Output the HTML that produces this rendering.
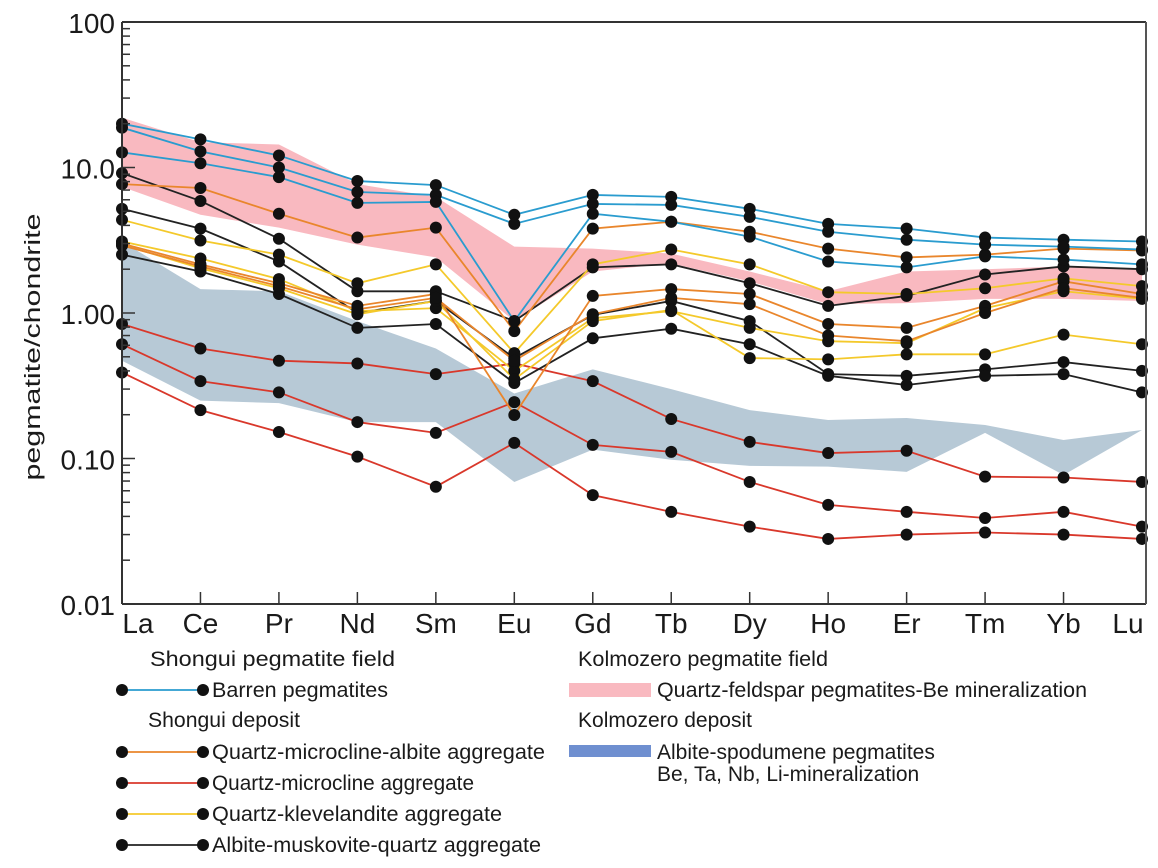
<!DOCTYPE html>
<html><head><meta charset="utf-8"><style>
body{margin:0;background:#fff;}
svg{display:block;font-family:"Liberation Sans",Arial,sans-serif;}
</style></head><body>
<svg id="chart" width="1158" height="868" viewBox="0 0 1158 868">
<g id="bands"></g><g id="series"></g><g id="axes"></g>
<g id="legend" font-size="21" fill="#1a1a1a">
<text x="150" y="666" textLength="245" lengthAdjust="spacingAndGlyphs">Shongui pegmatite field</text>
<text x="148" y="727" textLength="152" lengthAdjust="spacingAndGlyphs">Shongui deposit</text>
<text x="578" y="666" textLength="250" lengthAdjust="spacingAndGlyphs">Kolmozero pegmatite field</text>
<text x="578" y="727" textLength="174" lengthAdjust="spacingAndGlyphs">Kolmozero deposit</text>
<rect x="569" y="683" width="82" height="14" fill="#f9b9c0"/>
<text x="657" y="697" textLength="430" lengthAdjust="spacingAndGlyphs">Quartz-feldspar pegmatites-Be mineralization</text>
<rect x="569" y="745" width="82" height="12" fill="#6f8fd0"/>
<text x="657" y="759">Albite-spodumene pegmatites</text>
<text x="657" y="781">Be, Ta, Nb, Li-mineralization</text>
</g>
</svg>
<script>
const elements=["La","Ce","Pr","Nd","Sm","Eu","Gd","Tb","Dy","Ho","Er","Tm","Yb","Lu"];
const yTicks=[100,10,1,0.1,0.01];
const yTickLabels=["100","10.0","1.00","0.10","0.01"];
const barren1=[20.0,15.6,12.1,8.07,7.57,4.73,6.48,6.28,5.20,4.10,3.80,3.30,3.19,3.10];
const barren2=[18.8,12.9,10.0,6.79,6.48,4.10,5.62,5.53,4.58,3.62,3.19,2.95,2.86,2.73];
const barren3=[12.7,10.7,8.59,5.71,5.80,0.88,4.81,4.24,3.35,2.26,2.06,2.45,2.33,2.16];
const qma1=[7.69,7.23,4.81,3.30,3.86,0.75,3.80,4.24,3.62,2.77,2.41,2.52,2.77,2.69];
const qma2=[3.00,2.16,1.60,1.12,1.35,0.199,1.31,1.46,1.35,0.84,0.79,1.12,1.65,1.35];
const qma3=[2.91,2.09,1.53,1.06,1.27,0.47,0.98,1.27,1.15,0.70,0.64,1.0,1.48,1.27];
const qm1=[0.84,0.57,0.47,0.45,0.38,0.45,0.34,0.187,0.130,0.109,0.113,0.075,0.074,0.069];
const qm2=[0.61,0.34,0.285,0.178,0.150,0.244,0.124,0.111,0.069,0.048,0.043,0.039,0.043,0.034];
const qm3=[0.39,0.215,0.152,0.103,0.064,0.128,0.056,0.043,0.034,0.028,0.030,0.031,0.030,0.028];
const qk1=[4.37,3.15,2.52,1.60,2.16,0.53,2.16,2.73,2.16,1.39,1.35,1.48,1.73,1.53];
const qk2=[3.10,2.37,1.71,1.03,1.08,0.40,0.92,1.03,0.79,0.64,0.62,1.08,1.41,1.25];
const qk3=[2.95,2.03,1.48,0.98,1.21,0.35,0.88,1.05,0.49,0.48,0.52,0.52,0.71,0.61];
const amq1=[9.14,5.89,3.24,1.41,1.41,0.88,2.06,2.16,1.60,1.12,1.31,1.84,2.09,2.0];
const amq2=[5.20,3.80,2.26,1.0,1.21,0.49,0.97,1.21,0.88,0.38,0.37,0.41,0.46,0.40];
const amq3=[2.52,1.93,1.35,0.79,0.84,0.33,0.67,0.78,0.61,0.37,0.32,0.37,0.38,0.285];
const pinkUpper=[22,14.9,14.4,7.69,6.28,2.86,2.77,2.56,1.93,1.41,1.93,2.0,2.09,2.0];
const pinkLower=[7.36,4.73,3.86,2.95,2.41,0.88,1.93,2.19,1.65,1.15,1.17,1.25,1.25,1.21];
const blueUpper=[3.10,1.46,1.41,0.88,0.57,0.28,0.41,0.30,0.215,0.184,0.19,0.17,0.134,0.157];
const blueLower=[0.47,0.25,0.24,0.178,0.178,0.069,0.115,0.098,0.089,0.088,0.081,0.150,0.077,0.157];

const NS="http://www.w3.org/2000/svg";
const X0=122,X1=1142,TOP=22,DEC=145.5;
function xs(i){return X0+(X1-X0)*i/(elements.length-1);}
function ys(v){return TOP+(2-Math.log10(v))*DEC;}
function mk(tag,attrs,parent){const e=document.createElementNS(NS,tag);for(const k in attrs)e.setAttribute(k,attrs[k]);parent.appendChild(e);return e;}

const bands=document.getElementById('bands');
function band(up,lo,fill,name){
  let pts=up.map((v,i)=>xs(i)+","+ys(v));
  for(let i=lo.length-1;i>=0;i--)pts.push(xs(i)+","+ys(lo[i]));
  const p=mk('polygon',{points:pts.join(" "),fill:fill},bands);
  
  
}
band(pinkUpper,pinkLower,"#f9b9c0","kolmozero-field-band");
band(blueUpper,blueLower,"#b7c9d6","kolmozero-deposit-band");

const seriesG=document.getElementById('series');
const seriesList=[
 [qm1,"#d9382b","quartz-microcline-1"],[qm2,"#d9382b","quartz-microcline-2"],[qm3,"#d9382b","quartz-microcline-3"],
 [amq1,"#222","albite-muskovite-quartz-1"],[amq2,"#222","albite-muskovite-quartz-2"],[amq3,"#222","albite-muskovite-quartz-3"],
 [qk1,"#f4c92b","quartz-klevelandite-1"],[qk2,"#f4c92b","quartz-klevelandite-2"],[qk3,"#f4c92b","quartz-klevelandite-3"],
 [qma1,"#e9862c","quartz-microcline-albite-1"],[qma2,"#e9862c","quartz-microcline-albite-2"],[qma3,"#e9862c","quartz-microcline-albite-3"],
 [barren1,"#2a9ccf","barren-1"],[barren2,"#2a9ccf","barren-2"],[barren3,"#2a9ccf","barren-3"]
];
seriesList.forEach(([d,c,n])=>{
  const l=mk('polyline',{points:d.map((v,i)=>xs(i)+","+ys(v)).join(" "),fill:"none",stroke:c,"stroke-width":1.8},seriesG);
  
  
});
seriesList.forEach(([d,c,n])=>{
  d.forEach((v,i)=>{
    const e=mk('ellipse',{cx:xs(i),cy:ys(v),rx:6,ry:6,fill:"#111"},seriesG);
    
    
  });
});

const ax=document.getElementById('axes');
const YB=ys(0.01);
let a=mk('line',{x1:X0,y1:TOP,x2:X0,y2:YB,stroke:"#333","stroke-width":2},ax);

a=mk('line',{x1:X0,y1:YB,x2:1146,y2:YB,stroke:"#333","stroke-width":2},ax);

a=mk('line',{x1:X0,y1:TOP,x2:1146,y2:TOP,stroke:"#333","stroke-width":2},ax);

a=mk('line',{x1:1146,y1:TOP,x2:1146,y2:YB,stroke:"#555","stroke-width":2},ax);

for(let d=0;d<4;d++){
  for(let m=2;m<=9;m++){
    const v=Math.pow(10,-2+d)*m;
    const t=mk('line',{x1:X0,x2:X0+8,y1:ys(v),y2:ys(v),stroke:"#333","stroke-width":1.5},ax);
    
  }
}
yTicks.forEach((v,i)=>{
  const t=mk('line',{x1:X0,x2:X0+13,y1:ys(v),y2:ys(v),stroke:"#333","stroke-width":1.5},ax);
  
  const tx=mk('text',{x:X0-7,y:ys(v)+11,"text-anchor":"end","font-size":28,fill:"#1a1a1a"},ax);
  tx.textContent=yTickLabels[i];
  
});
elements.forEach((e,i)=>{
  if(i>0&&i<elements.length-1){
    const t=mk('line',{x1:xs(i),x2:xs(i),y1:YB,y2:YB-12,stroke:"#333","stroke-width":1.5},ax);
    
  }
  let x=xs(i); if(i===0)x+=16; if(i===elements.length-1)x-=14;
  const tx=mk('text',{x:x,y:YB+29,"text-anchor":"middle","font-size":28,fill:"#1a1a1a"},ax);
  tx.textContent=e;
  
});
const yt=mk('text',{x:0,y:0,transform:"translate(40,347) rotate(-90)","text-anchor":"middle","font-size":22,textLength:267,lengthAdjust:"spacingAndGlyphs",fill:"#1a1a1a"},ax);
yt.textContent="pegmatite/chondrite";


const lg=document.getElementById('legend');
const legendRows=[["#2a9ccf","Barren pegmatites",690,"barren",176],["#e9862c","Quartz-microcline-albite aggregate",752,"quartz-microcline-albite",333],["#d9382b","Quartz-microcline aggregate",783,"quartz-microcline",262],["#f4c92b","Quartz-klevelandite aggregate",814,"quartz-klevelandite",290],["#222","Albite-muskovite-quartz aggregate",845,"albite-muskovite-quartz",329]];
legendRows.forEach(([c,label,y,n,w])=>{
  const l=mk('line',{x1:122,x2:203,y1:y,y2:y,stroke:c,"stroke-width":1.8},lg);
  
  [122,203].forEach(cx=>{const d=mk('circle',{cx:cx,cy:y,r:6,fill:"#111"},lg);
    });
  const t=mk('text',{x:212,y:y+7,textLength:w,lengthAdjust:"spacingAndGlyphs"},lg);t.textContent=label;
  
});
</script>
</body></html>
